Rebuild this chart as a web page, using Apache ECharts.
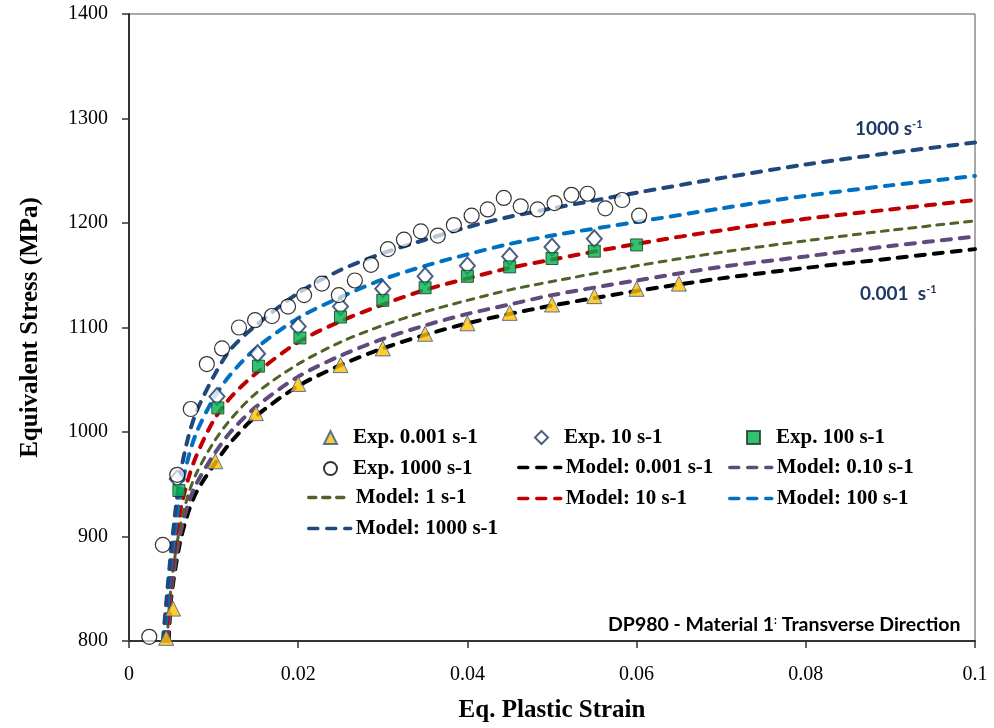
<!DOCTYPE html>
<html>
<head>
<meta charset="utf-8">
<script src="https://cdn.jsdelivr.net/npm/echarts@6/dist/echarts.min.js"></script>
<style>
  html, body { margin: 0; padding: 0; background: #fff; }
  #chart { width: 994px; height: 728px; }
</style>
</head>
<body>
<div id="chart"></div>
<script>
// experimental points [strain, stress]
const exp0001 = [[0.0044, 803], [0.0052, 831], [0.0102, 972], [0.015, 1018], [0.02, 1046], [0.025, 1064],
  [0.03, 1080], [0.035, 1094], [0.04, 1104], [0.045, 1114], [0.05, 1122], [0.055, 1130], [0.06, 1137], [0.065, 1142]];
const exp10 = [[0.0057, 955], [0.0104, 1034], [0.0152, 1075], [0.02, 1101], [0.025, 1120], [0.03, 1137],
  [0.035, 1149], [0.04, 1159], [0.045, 1168], [0.05, 1177], [0.055, 1185]];
const exp100 = [[0.0059, 944], [0.0105, 1023], [0.0153, 1063], [0.0202, 1090], [0.025, 1110], [0.03, 1126],
  [0.035, 1138], [0.04, 1149], [0.045, 1158], [0.05, 1166], [0.055, 1173], [0.06, 1179]];
const exp1000 = [[0.0024, 804], [0.004, 892], [0.0057, 959], [0.0073, 1022], [0.0092, 1065], [0.011, 1080],
  [0.013, 1100], [0.0149, 1107], [0.0169, 1111], [0.0188, 1120], [0.0207, 1131], [0.0228, 1142], [0.0248, 1131],
  [0.0267, 1145], [0.0286, 1160], [0.0306, 1175], [0.0325, 1184], [0.0345, 1192], [0.0365, 1188], [0.0384, 1198],
  [0.0405, 1207], [0.0424, 1213], [0.0443, 1224], [0.0463, 1216], [0.0483, 1213], [0.0503, 1219], [0.0523, 1227],
  [0.0542, 1228], [0.0563, 1214], [0.0583, 1222], [0.0603, 1207]];

// model curves, read at these strains
const modelStrain = [0.005, 0.006, 0.007, 0.008, 0.01, 0.012, 0.015, 0.02, 0.025, 0.03, 0.035,
  0.04, 0.045, 0.05, 0.06, 0.07, 0.08, 0.09, 0.1];
const model0001 = [842, 893, 923, 943, 968, 990, 1015, 1044, 1064, 1080, 1093, 1104, 1113, 1121, 1135, 1147, 1157, 1166, 1175];
const model010 = [848, 900, 931, 951, 978, 1000, 1024, 1053, 1073, 1089, 1102, 1113, 1122, 1131, 1145, 1158, 1168, 1178, 1187];
const model1 = [855, 908, 940, 961, 990, 1012, 1037, 1065, 1086, 1102, 1115, 1126, 1136, 1144, 1159, 1172, 1183, 1193, 1202];
const model10 = [863, 922, 955, 978, 1011, 1033, 1056, 1086, 1106, 1122, 1136, 1147, 1157, 1165, 1180, 1193, 1204, 1213, 1222];
const model100 = [873, 938, 975, 1000, 1032, 1055, 1080, 1109, 1129, 1146, 1159, 1170, 1180, 1188, 1201, 1214, 1226, 1236, 1245];
const model1000 = [888, 956, 995, 1020, 1053, 1079, 1102, 1133, 1155, 1171, 1184, 1196, 1206, 1214, 1229, 1243, 1256, 1267, 1277];
// strain where each model curve leaves 800 MPa
const modelStart = { m0001: 0.0047, m010: 0.0046, m1: 0.0045, m10: 0.0044, m100: 0.0042, m1000: 0.004 };

const yTicks = [800, 900, 1000, 1100, 1200, 1300, 1400];

function curve(start, vals) {
  return [[start, 800]].concat(modelStrain.map((s, i) => [s, vals[i]]));
}

const chart = echarts.init(document.getElementById('chart'));

const serif = 'Liberation Serif';
const sans = 'Lato';

function modelSeries(name, start, vals, color, width, dash) {
  return {
    name: name, type: 'line', data: curve(start, vals), smooth: 0.3,
    symbol: 'none', z: 2,
    lineStyle: { color: color, width: width, type: dash, cap: 'round' },
    itemStyle: { color: color }
  };
}

// legend rows sit at these centre heights
const rowY = [437, 467, 497, 526];
const legendText = { fontFamily: serif, fontWeight: 'bold', fontSize: 21, color: '#000', lineHeight: 20 };

function expLegend(left, row, names) {
  return {
    orient: 'vertical', left: left, top: rowY[row] - 10, padding: 0, itemWidth: 13, itemHeight: 13, itemGap: 10,
    textStyle: Object.assign({ padding: [0, 0, 0, 11] }, legendText), data: names, selectedMode: false
  };
}
function lineLegend(left, row, names) {
  return {
    orient: 'vertical', left: left, top: rowY[row] - 10, padding: 0, itemWidth: 42, itemHeight: 14, itemGap: 10,
    itemStyle: { opacity: 0 }, lineStyle: { width: 3.5 },
    textStyle: legendText, data: names, selectedMode: false
  };
}

const supStyle = { fontSize: 11, fontWeight: 'bold', fontFamily: sans, fill: '#1F3864', verticalAlign: 'top', padding: [0, 0, 9, 0] };

chart.setOption({
  animation: false,
  backgroundColor: '#fff',
  grid: { left: 129, right: 19, top: 14, bottom: 84, show: true, borderColor: '#555', borderWidth: 1 },
  legend: [
    expLegend(323, 0, ['Exp. 0.001 s-1', 'Exp. 1000 s-1']),
    lineLegend(307, 2, ['Model: 1 s-1', 'Model: 1000 s-1']),
    expLegend(534, 0, ['Exp. 10 s-1']),
    lineLegend(517, 1, ['Model: 0.001 s-1', 'Model: 10 s-1']),
    expLegend(746, 0, ['Exp. 100 s-1']),
    lineLegend(728, 1, ['Model: 0.10 s-1', 'Model: 100 s-1'])
  ],
  xAxis: {
    type: 'value', min: 0, max: 0.1, interval: 0.02,
    name: 'Eq. Plastic Strain', nameLocation: 'middle', nameGap: 57,
    nameTextStyle: { fontFamily: serif, fontWeight: 'bold', fontSize: 25, color: '#000' },
    axisLine: { show: true, onZero: false, lineStyle: { color: '#333', width: 2 } },
    axisTick: { show: true, length: 7, lineStyle: { color: '#333', width: 1.5 } },
    axisLabel: { fontFamily: serif, fontSize: 20, color: '#000', margin: 24 },
    splitLine: { show: false }
  },
  yAxis: {
    type: 'value', min: yTicks[0], max: yTicks[yTicks.length - 1], interval: 100,
    name: 'Equivalent Stress (MPa)', nameLocation: 'middle', nameGap: 86,
    nameTextStyle: { fontFamily: serif, fontWeight: 'bold', fontSize: 25, color: '#000' },
    axisLine: { show: true, lineStyle: { color: '#333', width: 2 } },
    axisTick: { show: true, length: 7, lineStyle: { color: '#333', width: 1.5 } },
    axisLabel: { fontFamily: serif, fontSize: 20, color: '#000', margin: 21, formatter: v => String(v) },
    splitLine: { show: false }
  },
  series: [
    {
      name: 'Exp. 0.001 s-1', type: 'scatter', data: exp0001, symbol: 'triangle', symbolSize: 15, z: 5,
      itemStyle: { color: '#FFC000', borderColor: '#2F5597', borderWidth: 1 }
    },
    {
      name: 'Exp. 10 s-1', type: 'scatter', data: exp10, symbol: 'diamond', symbolSize: [15, 17], z: 5,
      itemStyle: { color: '#fff', borderColor: '#1F3864', borderWidth: 2 }
    },
    {
      name: 'Exp. 100 s-1', type: 'scatter', data: exp100, symbol: 'rect', symbolSize: 12, z: 6,
      itemStyle: { color: '#00B050', borderColor: '#1a3a1a', borderWidth: 1 }
    },
    {
      name: 'Exp. 1000 s-1', type: 'scatter', data: exp1000, symbol: 'circle', symbolSize: 15, z: 5,
      itemStyle: { color: 'rgba(255,255,255,0.85)', borderColor: '#000', borderWidth: 1.2 }
    },
    modelSeries('Model: 0.001 s-1', modelStart.m0001, model0001, '#000000', 4, [9, 9]),
    modelSeries('Model: 0.10 s-1', modelStart.m010, model010, '#604A7B', 4, [9, 9]),
    modelSeries('Model: 1 s-1', modelStart.m1, model1, '#4F6228', 3, [7, 7]),
    modelSeries('Model: 10 s-1', modelStart.m10, model10, '#C00000', 4, [9, 9]),
    modelSeries('Model: 100 s-1', modelStart.m100, model100, '#0070C0', 4, [9, 9]),
    modelSeries('Model: 1000 s-1', modelStart.m1000, model1000, '#1F497D', 4, [9, 9])
  ],
  graphic: [
    {
      type: 'text', left: 855, top: 119, z: 10,
      style: { text: '1000 s{sup|-1}', fill: '#1F3864', font: 'bold 19px ' + sans, rich: { sup: supStyle } }
    },
    {
      type: 'text', left: 860, top: 284, z: 10,
      style: { text: '0.001  s{sup|-1}', fill: '#1F3864', font: 'bold 19px ' + sans, rich: { sup: supStyle } }
    },
    {
      type: 'text', left: 608, top: 615, z: 10,
      style: {
        text: 'DP980 - Material 1{c|:} Transverse Direction', fill: '#000',
        font: 'bold 19.5px ' + sans,
        rich: { c: { fontSize: 11, fontWeight: 'bold', fontFamily: sans, fill: '#000', verticalAlign: 'top', padding: [0, 0, 9, 0] } }
      }
    }
  ]
});
</script>
</body>
</html>
